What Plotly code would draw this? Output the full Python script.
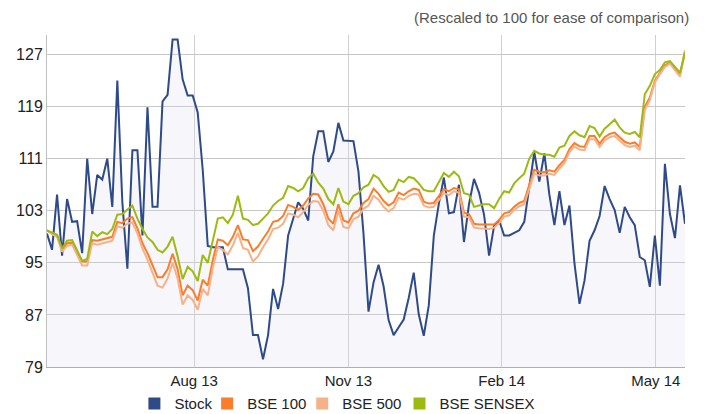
import plotly.graph_objects as go

# trading-day sample index (evenly spaced sessions, May 2013 - May 2014)
day = list(range(128))
tick_pos = [29.3, 60.0, 90.5, 121.2]
tick_labels = ["Aug 13", "Nov 13", "Feb 14", "May 14"]

stock = [99.5, 97.0, 105.5, 96.1, 104.8, 101.3, 101.4, 96.5, 111.0, 102.5,
         108.5, 107.8, 111.0, 103.6, 123.0, 104.3, 94.1, 112.3, 112.3, 99.2,
         118.9, 103.6, 103.6, 119.8, 120.8, 129.3, 129.3, 123.2, 120.7, 120.7,
         118.1, 109.3, 97.6, 97.4, 97.4, 97.4, 94.0, 94.0, 94.0, 94.0,
         91.1, 83.9, 83.9, 80.2, 83.9, 91.0, 87.9, 91.8, 99.2, 101.8,
         104.3, 103.3, 101.5, 111.4, 115.2, 115.2, 110.5, 112.1, 116.5, 113.8,
         113.8, 113.7, 109.0, 99.5, 87.5, 92.0, 94.7, 91.4, 86.2, 83.9,
         85.1, 86.3, 89.6, 93.5, 87.1, 83.8, 88.5, 99.2, 104.1, 108.1,
         102.6, 102.8, 107.0, 98.2, 104.0, 107.9, 105.8, 102.4, 96.1, 100.7,
         101.5, 99.2, 99.2, 99.6, 100.0, 101.3, 106.5, 112.0, 107.5, 111.8,
         105.5, 100.8, 106.0, 100.8, 103.8, 94.9, 88.7, 92.3, 98.4, 100.0,
         102.2, 106.8, 104.8, 103.1, 99.6, 103.6, 102.0, 100.8, 95.9, 95.4,
         91.3, 99.2, 91.5, 110.2, 102.5, 98.8, 106.9, 101.0]

bse100 = [100.0, 99.5, 99.2, 97.0, 98.0, 98.1, 96.7, 95.2, 95.2, 98.5,
          98.4, 98.6, 98.8, 99.0, 101.3, 101.1, 101.8, 102.0, 100.3, 98.0,
          96.5, 94.5, 92.8, 92.8, 94.0, 96.4, 94.0, 90.0, 91.5, 90.8,
          89.2, 92.4, 91.5, 95.4, 98.6, 98.4, 97.7, 99.0, 100.8, 98.6,
          98.5, 96.8, 97.5, 98.7, 99.8, 101.3, 101.5, 102.2, 103.9, 103.6,
          103.1, 103.8, 104.9, 105.6, 105.5, 104.0, 101.8, 101.0, 104.0, 101.5,
          101.2, 102.6, 103.0, 104.2, 104.8, 106.4, 105.6, 104.5, 103.8, 104.3,
          105.8, 105.4, 106.0, 106.4, 106.2, 104.4, 104.1, 104.2, 105.3, 106.3,
          106.0, 106.5, 106.3, 102.7, 102.5, 101.0, 100.9, 100.9, 100.8, 100.9,
          101.6, 102.6, 102.8, 103.6, 104.2, 104.5, 107.0, 109.3, 109.0, 108.9,
          109.2, 109.0, 110.0, 110.8, 112.5, 113.4, 112.9, 112.8, 114.5, 114.5,
          113.3, 114.3, 114.8, 115.0, 114.3, 113.6, 113.3, 113.5, 112.8, 119.0,
          120.4, 123.0, 124.2, 125.3, 125.8, 124.8, 123.8, 127.6]

bse500 = [100.0, 99.4, 99.0, 96.7, 97.6, 97.8, 96.2, 94.6, 94.6, 98.0,
          97.8, 98.0, 98.2, 98.4, 100.6, 100.4, 101.0, 101.2, 99.5, 97.2,
          95.5, 93.4, 91.5, 91.2, 92.6, 95.0, 92.6, 88.6, 90.0, 89.3,
          87.8, 91.0, 90.0, 94.2, 97.4, 97.0, 96.3, 97.7, 99.6, 97.3,
          97.0, 95.2, 96.0, 97.4, 98.6, 100.2, 100.4, 101.0, 102.6, 102.4,
          102.0, 102.8, 103.9, 104.5, 104.4, 103.0, 100.8, 100.0, 103.0, 100.5,
          100.3, 101.7, 102.1, 103.3, 103.8, 105.3, 104.7, 103.6, 102.9, 103.4,
          105.0, 104.7, 105.3, 105.6, 105.5, 103.8, 103.5, 103.6, 104.7, 105.7,
          105.4, 106.0, 105.8, 102.1, 102.0, 100.4, 100.3, 100.3, 100.2, 100.4,
          101.1, 102.1, 102.3, 103.1, 103.7, 104.0, 106.5, 108.7, 108.4, 108.4,
          108.7, 108.5, 109.5, 110.3, 112.0, 112.9, 112.4, 112.3, 114.0, 114.0,
          112.8, 113.8, 114.3, 114.5, 113.8, 113.1, 112.8, 113.0, 112.3, 118.5,
          120.0, 122.7, 124.0, 125.1, 125.6, 124.6, 123.6, 127.5]

sensex = [100.0, 99.6, 99.3, 97.2, 98.4, 98.5, 96.8, 95.3, 95.6, 99.8,
          99.1, 99.7, 99.4, 100.2, 102.4, 102.5, 103.2, 103.8, 101.8, 100.2,
          98.9, 98.2, 97.0, 96.6, 97.5, 99.0, 96.0, 92.5, 94.4, 93.7,
          92.2, 96.2, 95.0, 98.4, 101.8, 102.0, 101.1, 102.4, 105.3, 101.8,
          101.6, 100.8, 101.0, 101.8, 102.6, 103.8, 104.5, 105.0, 106.8, 106.5,
          106.0, 106.5, 108.0, 108.7, 107.3, 106.4, 104.8, 104.0, 106.5, 104.4,
          104.0, 105.3, 105.7, 106.6, 107.0, 108.5, 108.0, 106.8, 105.9, 106.2,
          107.8, 107.4, 108.2, 108.0, 107.2, 106.2, 106.0, 106.0, 107.5, 108.8,
          108.2, 109.0, 108.3, 105.7, 105.5, 103.6, 103.8, 104.0, 104.0, 103.4,
          104.8, 106.0, 105.8, 107.2, 108.0, 108.7, 111.0, 112.2, 111.8, 111.6,
          111.6, 111.3, 112.7, 113.0, 114.5, 115.2, 114.6, 114.3, 116.0, 115.7,
          114.4, 115.6, 116.3, 117.0, 115.8, 115.0, 114.8, 115.1, 114.3, 120.9,
          122.2, 124.0, 124.6, 125.8, 126.0, 125.1, 124.2, 127.3]

y_ticks = [79, 87, 95, 103, 111, 119, 127]

C_STOCK = "#2f4a89"
C_100 = "#fb7d2a"
C_500 = "#f6b189"
C_SENSEX = "#9dba12"

FONT = "Liberation Sans, Arial, sans-serif"

fig = go.Figure()
fig.add_trace(go.Scatter(x=day, y=stock, mode="lines", name="Stock",
                         line=dict(color=C_STOCK, width=2),
                         fill="tozeroy", fillcolor="rgba(215,215,235,0.22)",
                         showlegend=False))
fig.add_trace(go.Scatter(x=day, y=bse100, mode="lines", name="BSE 100",
                         line=dict(color=C_100, width=2), showlegend=False))
fig.add_trace(go.Scatter(x=day, y=bse500, mode="lines", name="BSE 500",
                         line=dict(color=C_500, width=2), showlegend=False))
fig.add_trace(go.Scatter(x=day, y=sensex, mode="lines", name="BSE SENSEX",
                         line=dict(color=C_SENSEX, width=2), showlegend=False))

# legend entries with square swatches, one small legend per entry
legend_entries = [("Stock", C_STOCK, "legend", 0.137),
                  ("BSE 100", C_100, "legend2", 0.251),
                  ("BSE 500", C_500, "legend3", 0.400),
                  ("BSE SENSEX", C_SENSEX, "legend4", 0.5525)]
legend_layout = {}
for nm, col, lg, lx in legend_entries:
    fig.add_trace(go.Scatter(x=[None], y=[None], mode="markers", name=nm,
                             marker=dict(symbol="square", size=11, color=col),
                             showlegend=True, legend=lg))
    legend_layout[lg] = dict(orientation="h", x=lx, xanchor="left", y=-0.111,
                             yanchor="middle", font=dict(size=15, color="#222"),
                             itemsizing="constant", itemwidth=30,
                             bgcolor="rgba(0,0,0,0)")

fig.update_layout(
    width=705, height=414,
    margin=dict(l=47, r=20, t=35, b=47, autoexpand=False),
    paper_bgcolor="white", plot_bgcolor="white",
    font=dict(family=FONT, size=15, color="#222"),
    annotations=[dict(text="(Rescaled to 100 for ease of comparison)",
                      xref="paper", yref="paper", x=1, y=1.052,
                      xanchor="right", yanchor="middle", xshift=6,
                      showarrow=False,
                      font=dict(family=FONT, size=15, color="#555"))],
    **legend_layout,
)
fig.update_xaxes(range=[0, 127], tickvals=tick_pos, ticktext=tick_labels,
                 showgrid=True, gridcolor="#d0d0d0", gridwidth=1,
                 showline=True, linecolor="#b0b0b0", linewidth=1,
                 ticks="", zeroline=False, tickfont=dict(size=15), automargin=False)
fig.update_yaxes(range=[79, 130], tickvals=y_ticks,
                 showgrid=True, gridcolor="#c8c8c8", gridwidth=1,
                 showline=True, linecolor="#c0c0c0", linewidth=1,
                 ticks="", zeroline=False, tickfont=dict(size=16), automargin=False)

fig.write_html("out.html", config={"displayModeBar": False},
               post_script="document.body.style.margin='0px';")
